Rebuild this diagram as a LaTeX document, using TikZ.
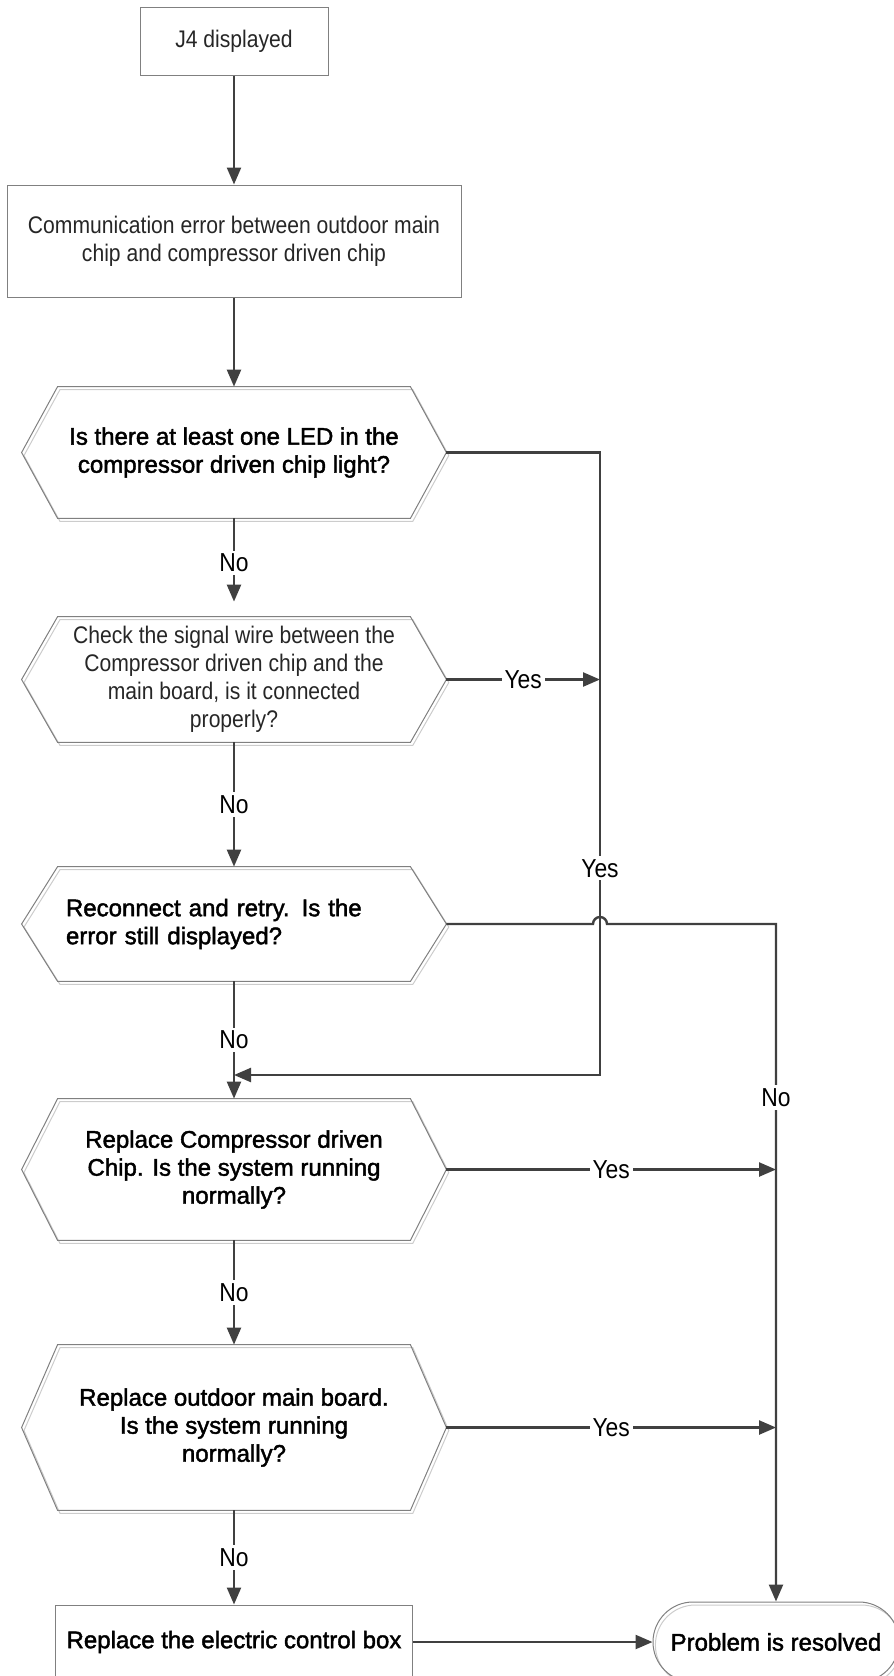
\documentclass[tikz,border=0pt]{standalone}
\usepackage{fontspec}
\setmainfont{Liberation Sans}[FakeStretch=0.88]
\newfontfamily\heavyfont{Liberation Sans}[FakeBold=1.8]
\usepackage{tikz}
\usetikzlibrary{arrows.meta, positioning, calc}
\newcommand{\flowtext}{\fontsize{12}{14}\selectfont}
\tikzset{
  procbox/.style={
    rectangle, draw=gray, line width=0.5pt, align=center,
    inner sep=0pt, font=\flowtext, text=black!85
  },
  hexbox/.style={
    rectangle, minimum width=212pt, inner sep=0pt, align=center,
    font=\flowtext\heavyfont
  },
  shadowline/.style={
    draw=gray, line width=0.5pt,
    preaction={draw=gray!40, line width=0.5pt,
      transform canvas={xshift=1.2pt, yshift=-1.5pt}}
  },
  endbox/.style={
    rectangle, rounded corners=20pt, shadowline, minimum width=123pt,
    minimum height=40pt, font=\flowtext\heavyfont
  },
  conn/.style={draw=black!75, line width=1.2pt},
  arrow/.style={conn, -{Triangle[length=8.5pt, width=7pt]}},
  lbl/.style={fill=white, inner sep=1.5pt, font=\fontsize{13}{15}\selectfont}
}
\begin{document}
\begin{tikzpicture}[x=0.5pt, y=-0.5pt]
\useasboundingbox (0,0) rectangle (894,1676);

\node[procbox, minimum width=94pt, minimum height=34pt] (j4) at (234,41) {J4 displayed};
\node[procbox, minimum width=227pt, minimum height=56pt] (comm) at (234,241)
  {Communication error between outdoor main\\chip and compressor driven chip};
\node[hexbox, minimum height=65.5pt] (q1) at (234,452.5)
  {Is there at least one LED in the\\compressor driven chip light?};
\node[hexbox, minimum height=62.5pt, font=\flowtext, text=black!85] (q2) at (234,679.5)
  {Check the signal wire between the\\Compressor driven chip and the\\main board, is it connected\\properly?};
\node[hexbox, minimum height=57pt, text width=168pt, inner xsep=22pt, align=left] (q3) at (234,924)
  {Reconnect and retry. Is the\\error still displayed?};
\node[hexbox, minimum height=70.5pt] (q4) at (234,1169.5)
  {Replace Compressor driven\\Chip. Is the system running\\normally?};
\node[hexbox, minimum height=82.5pt] (q5) at (234,1427.5)
  {Replace outdoor main board.\\Is the system running\\normally?};
\node[procbox, minimum width=178.5pt, minimum height=37pt, font=\flowtext\heavyfont, text=black] (fix) at (234,1642)
  {Replace the electric control box};
\node[endbox] (done) at (776,1642) {Problem is resolved};

% hexagon outlines
\foreach \q in {q1,q2,q3,q4,q5} {
  \draw[shadowline] (\q.west) -- ([xshift=18pt]\q.north west) -- ([xshift=-18pt]\q.north east)
    -- (\q.east) -- ([xshift=-18pt]\q.south east) -- ([xshift=18pt]\q.south west) -- cycle;
}

\coordinate (ybus) at (600,1075);
\coordinate (merge) at (234,1075);
\coordinate (nbus) at (done.north |- q3.east);

% main column
\draw[arrow] (j4) -- (comm);
\draw[arrow] (comm) -- (q1);
\draw[arrow, shorten >=7.5pt] (q1) -- node[lbl, pos=0.45] {No} (q2);
\draw[arrow] (q2) -- node[lbl] {No} (q3);
\draw[arrow] (q3) -- node[lbl] {No} (q4);
\draw[arrow] (q4) -- node[lbl] {No} (q5);
\draw[arrow] (q5) -- node[lbl] {No} (fix);
\draw[arrow] (fix) -- (done);

% yes branch back to replace chip
\draw[arrow] (q1.east) -| (ybus) node[lbl, pos=0.834] {Yes} -- (merge);
\draw[arrow] (q2.east) -- node[lbl] {Yes} (q2.east -| ybus);

% no branch to resolved
\draw[arrow] (q3.east) -- ([xshift=-3.5pt]q3.east -| ybus)
  arc[start angle=180, end angle=0, radius=3.5pt] -- (nbus)
  -- node[lbl, pos=0.256] {No} (done.north);
\draw[arrow] (q4.east) -- node[lbl] {Yes} (q4.east -| done.north);
\draw[arrow] (q5.east) -- node[lbl] {Yes} (q5.east -| done.north);

\end{tikzpicture}
\end{document}
